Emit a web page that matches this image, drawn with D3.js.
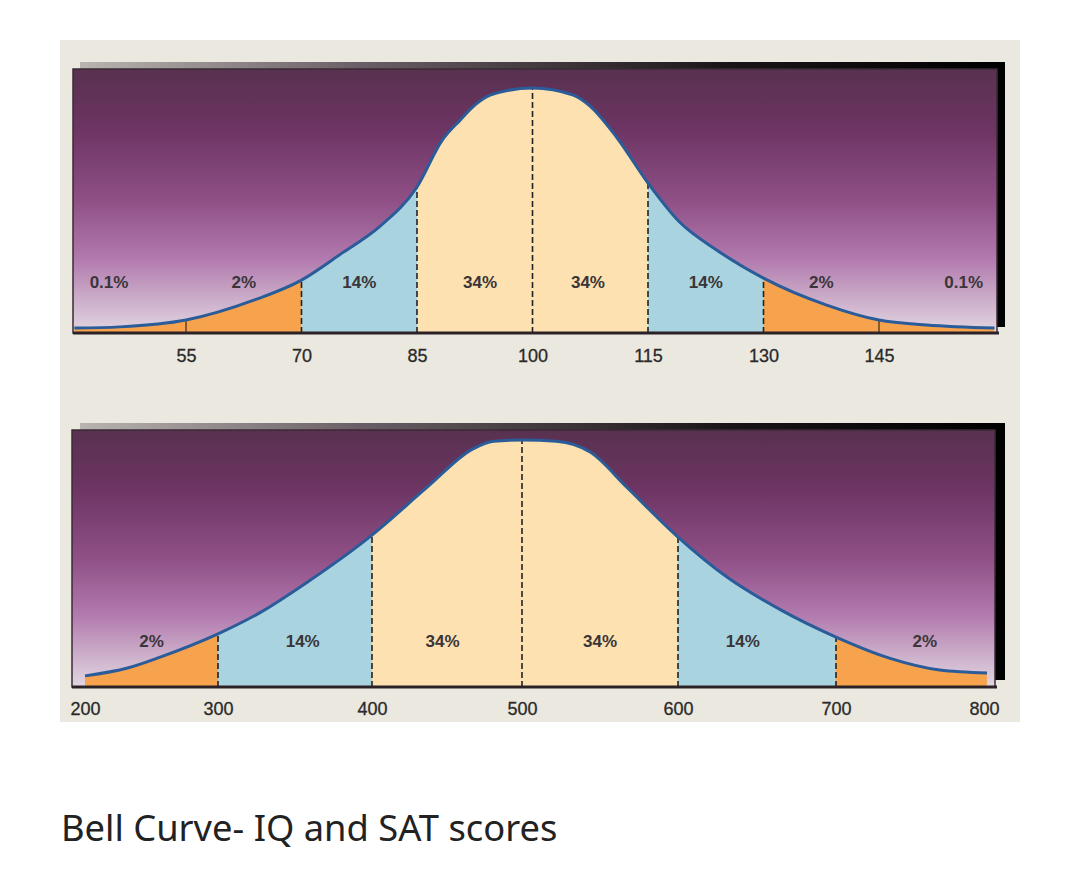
<!DOCTYPE html>
<html>
<head>
<meta charset="utf-8">
<script src="https://cdn.jsdelivr.net/npm/d3@7"></script>
<style>
  html, body { margin: 0; padding: 0; background: #ffffff; }
  svg { display: block; }
</style>
</head>
<body>
<svg id="chart" width="1080" height="893"></svg>
<script>
// ---------- DATA ----------
// IQ panel: curve (score, relative height 0..1)
const iqCurveX = [40.5, 46.4, 55, 63.9, 70, 75.3, 80.1, 85, 88.3, 90.6, 92.7, 94.5, 100, 105.3, 107.4, 110.9, 115, 119.1, 123.9, 130, 138.2, 145, 151.2, 160];
const iqCurveY = [0.02, 0.025, 0.053, 0.135, 0.216, 0.327, 0.433, 0.596, 0.788, 0.869, 0.935, 0.971, 1.0, 0.971, 0.928, 0.80, 0.612, 0.453, 0.339, 0.224, 0.114, 0.053, 0.033, 0.02];
const iqTicks = [55, 70, 85, 100, 115, 130, 145];
const iqDashed = [70, 85, 100, 115, 130];
const iqMinor = [55, 145];
const iqBandEdges = [40.5, 70, 85, 115, 130, 160];
const iqBandKinds = ["tail", "mid", "core", "mid", "tail"];
const iqLabels = ["0.1%", "2%", "14%", "34%", "34%", "14%", "2%", "0.1%"];
const iqLabelAt = [45, 62.5, 77.5, 93.2, 107.2, 122.5, 137.5, 156];

// SAT panel
const satCurveX = [200, 232, 256, 300, 327, 360, 400, 437, 467, 481, 500, 522, 544, 567, 600, 631, 665, 700, 736, 770, 802];
const satCurveY = [0.045, 0.077, 0.12, 0.215, 0.30, 0.433, 0.615, 0.81, 0.963, 0.995, 1.0, 0.995, 0.95, 0.81, 0.607, 0.445, 0.312, 0.202, 0.117, 0.069, 0.057];
const satTicks = [200, 300, 400, 500, 600, 700, 800];
const satDashed = [300, 400, 500, 600, 700];
const satBandEdges = [200, 300, 400, 600, 700, 802];
const satBandKinds = ["tail", "mid", "core", "mid", "tail"];
const satLabels = ["2%", "14%", "34%", "34%", "14%", "2%"];
const satLabelAt = [250, 355, 447, 550, 641, 760];

const caption = "Bell Curve- IQ and SAT scores";

// ---------- STYLE ----------
const bandColor = { tail: "#f7a24c", mid: "#a9d3de", core: "#fde1b0" };
const svg = d3.select("#chart");
const defs = svg.append("defs");

const grad = defs.append("linearGradient").attr("id", "bg").attr("x1", 0).attr("y1", 0).attr("x2", 0).attr("y2", 1);
[[0, "#583150"], [0.22, "#6c3462"], [0.5, "#8f5086"], [0.72, "#b27aae"], [0.88, "#cdb0cb"], [1, "#e2d6e2"]]
  .forEach(([o, c]) => grad.append("stop").attr("offset", o).attr("stop-color", c));

const sgrad = defs.append("linearGradient").attr("id", "shadow").attr("x1", 0).attr("y1", 0).attr("x2", 1).attr("y2", 0);
[[0, "#b9b4b0"], [0.3, "#6a5f66"], [0.7, "#1a1418"], [1, "#000000"]]
  .forEach(([o, c]) => sgrad.append("stop").attr("offset", o).attr("stop-color", c));

// outer beige frame
svg.append("rect").attr("x", 60).attr("y", 40).attr("width", 960).attr("height", 682).attr("fill", "#ebe8df");

function panel(cfg) {
  const { id, x, yTop, yBase, yPeak, boxL, boxR, shadow, curveX, curveY, ticks, dashed, minor, edges, kinds, labels, labelAt, labelY, tickY } = cfg;
  const g = svg.append("g");
  const pts = curveX.map((v, i) => ({ v, h: curveY[i] }));
  const y = d3.scaleLinear().domain([0, 1]).range([yBase, yPeak]);
  const hAt = v => { const p = pts.find(d => d.v === v); return p ? p.h : 0; };

  // shadow and box
  g.append("rect").attr("x", shadow[0]).attr("y", shadow[1]).attr("width", shadow[2] - shadow[0]).attr("height", shadow[3] - shadow[1]).attr("fill", "url(#shadow)");
  g.append("rect").attr("x", boxL).attr("y", yTop).attr("width", boxR - boxL).attr("height", yBase - yTop)
    .attr("fill", "url(#bg)").attr("stroke", "#3b2b36").attr("stroke-width", 1.5);

  const area = d3.area().x(d => x(d.v)).y0(yBase).y1(d => y(d.h)).curve(d3.curveMonotoneX);
  const line = d3.line().x(d => x(d.v)).y(d => y(d.h)).curve(d3.curveMonotoneX);

  defs.append("clipPath").attr("id", "clip-" + id).append("path").attr("d", area(pts));
  const bands = g.append("g").attr("clip-path", `url(#clip-${id})`);
  kinds.forEach((k, i) => {
    const x0 = x(edges[i]), x1 = x(edges[i + 1]);
    bands.append("rect").attr("x", x0).attr("y", yTop).attr("width", x1 - x0).attr("height", yBase - yTop).attr("fill", bandColor[k]);
  });

  // dashed dividers
  g.selectAll(".dash").data(dashed).join("line")
    .attr("x1", d => x(d)).attr("x2", d => x(d)).attr("y1", yBase).attr("y2", d => y(hAt(d)))
    .attr("stroke", "#222").attr("stroke-width", 1.6).attr("stroke-dasharray", "6,3");
  g.selectAll(".minor").data(minor).join("line")
    .attr("x1", d => x(d)).attr("x2", d => x(d)).attr("y1", yBase).attr("y2", d => y(hAt(d)))
    .attr("stroke", "#6b4a2a").attr("stroke-width", 1.6);

  // curve
  g.append("path").attr("d", line(pts)).attr("fill", "none").attr("stroke", "#2b5c9a").attr("stroke-width", 3);

  // baseline
  g.append("line").attr("x1", boxL).attr("x2", boxR + 2).attr("y1", yBase).attr("y2", yBase).attr("stroke", "#2a2226").attr("stroke-width", 3);

  // labels
  g.selectAll(".pct").data(labels).join("text")
    .attr("x", (d, i) => x(labelAt[i])).attr("y", labelY).attr("text-anchor", "middle")
    .attr("font-family", "Liberation Sans, Arial, sans-serif").attr("font-size", 17).attr("font-weight", "bold")
    .attr("fill", "#3a3538").text(d => d);

  // axis ticks labels
  const axis = d3.axisBottom(x).tickValues(ticks).tickSize(0).tickPadding(0).tickFormat(d3.format("d"));
  const ax = g.append("g").attr("transform", `translate(0,${tickY})`).call(axis);
  ax.select(".domain").remove();
  ax.selectAll("text").attr("font-family", "Liberation Sans, Arial, sans-serif").attr("font-size", 18)
    .attr("fill", "#2a2a2a").attr("dy", 0).attr("stroke", "#2a2a2a").attr("stroke-width", 0.3);
}

const xIQ = d3.scaleLinear().domain([55, 145]).range([186, 879]);
panel({
  id: "iq", x: xIQ, yTop: 69, yBase: 333, yPeak: 88, boxL: 73, boxR: 997,
  shadow: [80, 62, 1005, 327],
  curveX: iqCurveX, curveY: iqCurveY, ticks: iqTicks, dashed: iqDashed, minor: iqMinor,
  edges: iqBandEdges, kinds: iqBandKinds, labels: iqLabels, labelAt: iqLabelAt, labelY: 288, tickY: 362
});

const xSAT = d3.scaleLinear().domain(satTicks).range([85, 218, 372, 522, 678, 836, 984]);
panel({
  id: "sat", x: xSAT, yTop: 430, yBase: 687, yPeak: 440, boxL: 72, boxR: 995,
  shadow: [80, 423, 1005, 680],
  curveX: satCurveX, curveY: satCurveY, ticks: satTicks, dashed: satDashed, minor: [],
  edges: satBandEdges, kinds: satBandKinds, labels: satLabels, labelAt: satLabelAt, labelY: 647, tickY: 715
});

svg.append("text").attr("x", 61).attr("y", 841)
  .attr("font-family", "Noto Sans, Open Sans, sans-serif").attr("font-size", 36.3)
  .attr("fill", "#222").text(caption);
</script>
</body>
</html>
